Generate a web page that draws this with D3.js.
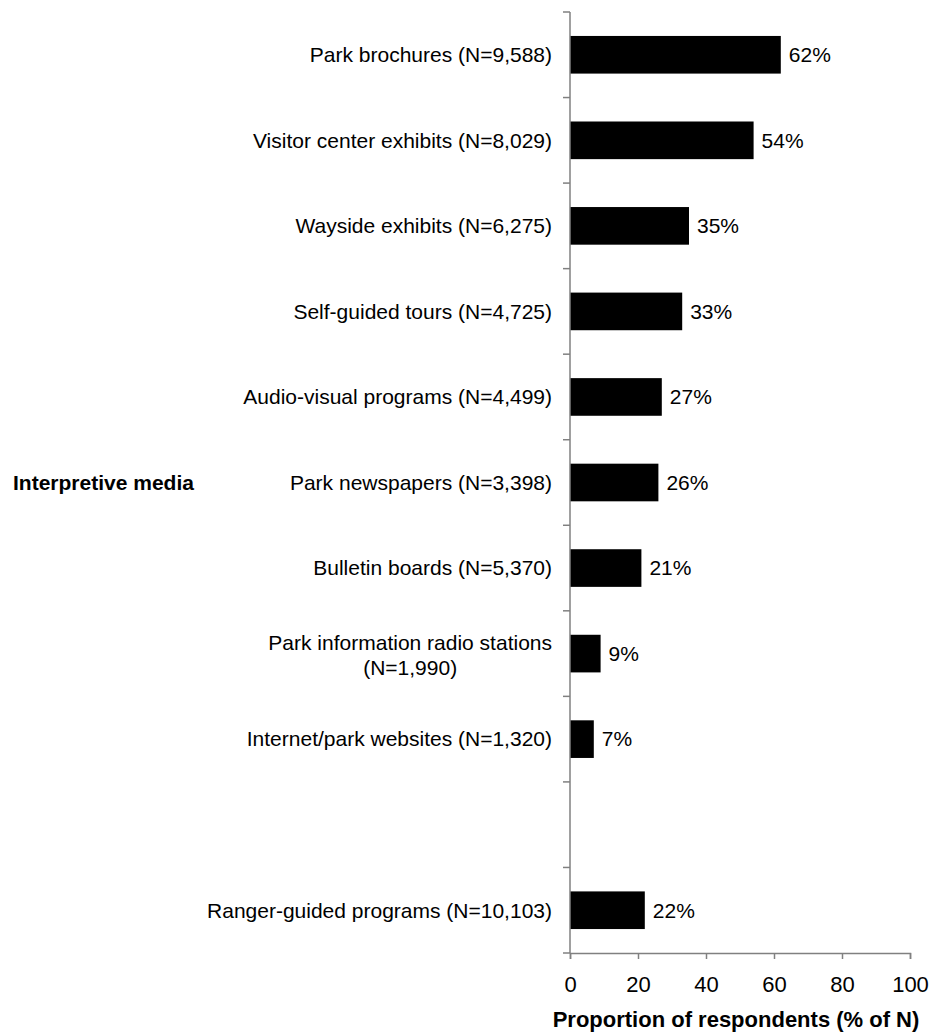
<!DOCTYPE html>
<html>
<head>
<meta charset="utf-8">
<script src="https://cdn.jsdelivr.net/npm/d3@7"></script>
<style>
  body { margin: 0; background: #fff; }
  svg { display: block; font-family: "Liberation Sans", Arial, sans-serif; }
</style>
</head>
<body>
<svg id="chart" width="930" height="1033"></svg>
<script>
// Interpretive media used by park visitors
const categories = [
  "Park brochures (N=9,588)",
  "Visitor center exhibits (N=8,029)",
  "Wayside exhibits (N=6,275)",
  "Self-guided tours (N=4,725)",
  "Audio-visual programs (N=4,499)",
  "Park newspapers (N=3,398)",
  "Bulletin boards (N=5,370)",
  "Park information radio stations|(N=1,990)",
  "Internet/park websites (N=1,320)",
  "",
  "Ranger-guided programs (N=10,103)"
];
const values = [62, 54, 35, 33, 27, 26, 21, 9, 7, null, 22];
const xTicks = [0, 20, 40, 60, 80, 100];
const groupLabel = "Interpretive media";
const xTitle = "Proportion of respondents (% of N)";

(function draw() {
  const svg = d3.select("#chart");
  const mLeft = 570, mRight = 910, mTop = 12, mBottom = 953;
  const labelSize = 21, tickSize = 22, titleSize = 22;

  const x = d3.scaleLinear().domain([0, 100]).range([mLeft, mRight]);
  const y = d3.scaleBand().domain(d3.range(categories.length)).range([mTop, mBottom]).padding(0);
  const barH = y.bandwidth() * 0.44;

  // bars
  const rows = categories.map((c, i) => ({ c, v: values[i], i })).filter(d => d.v != null);
  svg.append("g").selectAll("rect").data(rows).join("rect")
    .attr("x", x(0))
    .attr("y", d => y(d.i) + (y.bandwidth() - barH) / 2)
    .attr("width", d => x(d.v) - x(0))
    .attr("height", barH)
    .attr("fill", "#000");

  // value labels
  svg.append("g").selectAll("text").data(rows).join("text")
    .attr("x", d => x(d.v) + 8)
    .attr("y", d => y(d.i) + y.bandwidth() / 2)
    .attr("dy", "0.35em")
    .attr("font-size", labelSize)
    .text(d => d.v + "%");

  // category labels
  const labelRight = mLeft - 18;
  const catG = svg.append("g");
  categories.forEach((c, i) => {
    if (!c) return;
    const cy = y(i) + y.bandwidth() / 2;
    const lines = c.split("|");
    if (lines.length === 1) {
      catG.append("text")
        .attr("x", labelRight).attr("y", cy).attr("dy", "0.35em")
        .attr("text-anchor", "end").attr("font-size", labelSize)
        .text(c);
    } else {
      const tmp = catG.append("text").attr("font-size", labelSize).text(lines[0]);
      const w = tmp.node().getComputedTextLength();
      tmp.remove();
      const cx = labelRight - w / 2;
      const t = catG.append("text").attr("font-size", labelSize).attr("text-anchor", "middle");
      lines.forEach((ln, k) => {
        t.append("tspan").attr("x", cx)
          .attr("y", cy + 2 + (k - (lines.length - 1) / 2) * 25)
          .attr("dy", "0.35em").text(ln);
      });
    }
  });

  // y axis with ticks at band boundaries
  const axisColor = "#808080";
  svg.append("line").attr("x1", mLeft).attr("x2", mLeft).attr("y1", mTop).attr("y2", mBottom)
    .attr("stroke", axisColor).attr("stroke-width", 1.5);
  const bounds = d3.range(categories.length + 1).map(i => mTop + i * y.step());
  svg.append("g").selectAll("line").data(bounds).join("line")
    .attr("x1", mLeft - 7).attr("x2", mLeft).attr("y1", d => d).attr("y2", d => d)
    .attr("stroke", axisColor).attr("stroke-width", 1.5);

  // x axis
  const xAxis = svg.append("g").attr("transform", `translate(0,${mBottom})`)
    .call(d3.axisBottom(x).tickValues(xTicks).tickSize(6).tickPadding(17));
  xAxis.select(".domain").attr("stroke", axisColor).attr("stroke-width", 1.5);
  xAxis.selectAll(".tick line").attr("stroke", axisColor).attr("stroke-width", 1.5);
  xAxis.selectAll(".tick text").attr("font-size", tickSize).attr("fill", "#000")
    .attr("font-family", "Liberation Sans, Arial, sans-serif");

  // axis title
  svg.append("text").attr("x", (mLeft + mRight) / 2 - 4).attr("y", 1027)
    .attr("text-anchor", "middle").attr("font-size", titleSize).attr("font-weight", "bold")
    .text(xTitle);

  // group label
  svg.append("text").attr("x", 13).attr("y", y(5) + y.bandwidth() / 2).attr("dy", "0.35em")
    .attr("font-size", labelSize).attr("font-weight", "bold")
    .text(groupLabel);
})();
</script>
</body>
</html>
